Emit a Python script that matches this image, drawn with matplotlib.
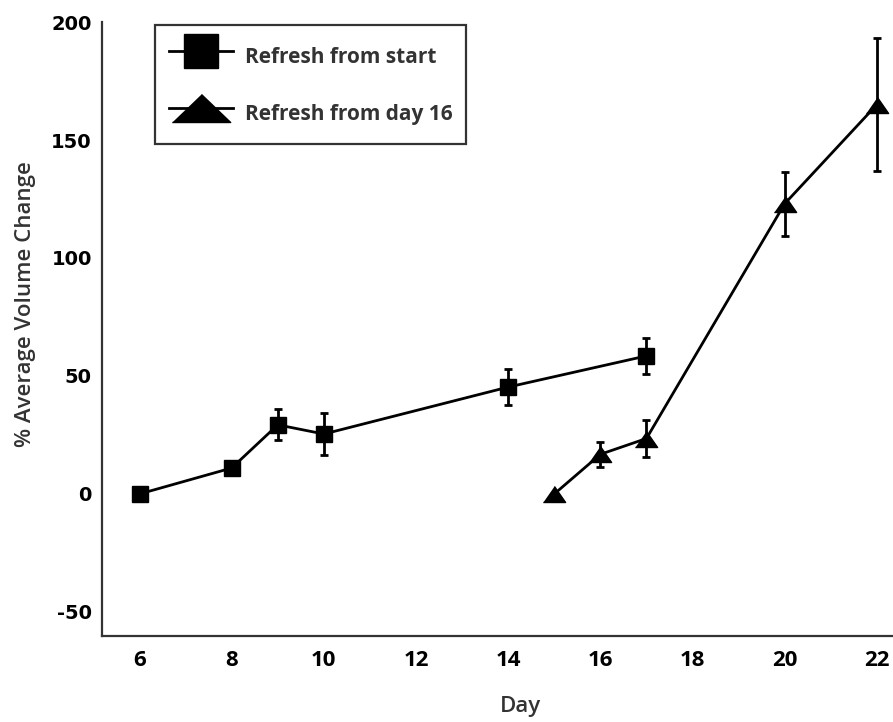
import matplotlib.pyplot as plt
from matplotlib.lines import Line2D

plt.rcParams["axes.unicode_minus"] = False

# data
days_start = [6, 8, 9, 10, 14, 17]
vol_start = [0, 11, 29.3, 25.4, 45.3, 58.5]
err_start = [0, 0, 6.6, 8.9, 7.6, 7.7]

days_16 = [15, 16, 17, 20, 22]
vol_16 = [0, 16.8, 23.5, 123, 165]
err_16 = [0, 5.3, 7.8, 13.6, 28.3]

x_ticks = [6, 8, 10, 12, 14, 16, 18, 20, 22]
y_ticks = [-50, 0, 50, 100, 150, 200]

# flattened triangle markers like the original
tri = [(-1, -0.72), (1, -0.72), (0, 0.72)]
tri_leg = [(-1, -0.48), (1, -0.48), (0, 0.48)]

fig = plt.figure(figsize=(8.93, 7.22), dpi=100)
ax = fig.add_axes([0.1137, 0.1191, 0.8863, 0.8504])

ax.errorbar(days_start, vol_start, yerr=err_start, color="black", marker="s",
            markersize=11, linewidth=2, elinewidth=2, capsize=3, capthick=2)
ax.errorbar(days_16, vol_16, yerr=err_16, color="black", marker=tri,
            markersize=16, linewidth=2, elinewidth=2, capsize=3, capthick=2)

ax.set_xlim(5.176, 22.35)
ax.set_ylim(-60.2, 200)
ax.set_xticks(x_ticks)
ax.set_yticks(y_ticks)
ax.tick_params(axis="x", length=0, pad=10)
ax.tick_params(axis="y", length=0, pad=7)
for lab in ax.get_yticklabels():
    lab.set_fontfamily("DejaVu Sans")
    lab.set_fontweight("bold")
    lab.set_fontsize(14)
for lab in ax.get_xticklabels():
    lab.set_fontfamily("Open Sans")
    lab.set_fontweight("bold")
    lab.set_fontsize(16)

ax.spines["top"].set_visible(False)
ax.spines["right"].set_visible(False)
for s in ["left", "bottom"]:
    ax.spines[s].set_linewidth(1.6)
    ax.spines[s].set_color("#333333")

ax.set_xlabel("Day", fontfamily="Open Sans", fontweight="semibold",
              fontsize=16, color="#333333")
ax.xaxis.set_label_coords(0.529, -0.098)
ax.set_ylabel("% Average Volume Change", fontfamily="Open Sans",
              fontweight="semibold", fontsize=16, color="#333333")
ax.yaxis.set_label_coords(-0.083, 0.54)

handles = [
    Line2D([], [], color="black", marker="s", markersize=24, linewidth=2),
    Line2D([], [], color="black", marker=tri_leg, markersize=42, linewidth=2),
]
labels = ["Refresh from start", "Refresh from day 16"]
leg = ax.legend(handles, labels, loc="upper left", bbox_to_anchor=(0.068, 0.995),
                borderaxespad=0, frameon=True, fancybox=False, handlelength=3.1,
                handleheight=2.2, borderpad=0.65, labelspacing=1.06,
                handletextpad=0.55,
                prop={"family": "Open Sans", "weight": "bold", "size": 15})
leg.get_frame().set_edgecolor("#333333")
leg.get_frame().set_linewidth(1.6)
leg.get_frame().set_alpha(1)
for t in leg.get_texts():
    t.set_color("#333333")

fig.savefig("out.png", dpi=100)
